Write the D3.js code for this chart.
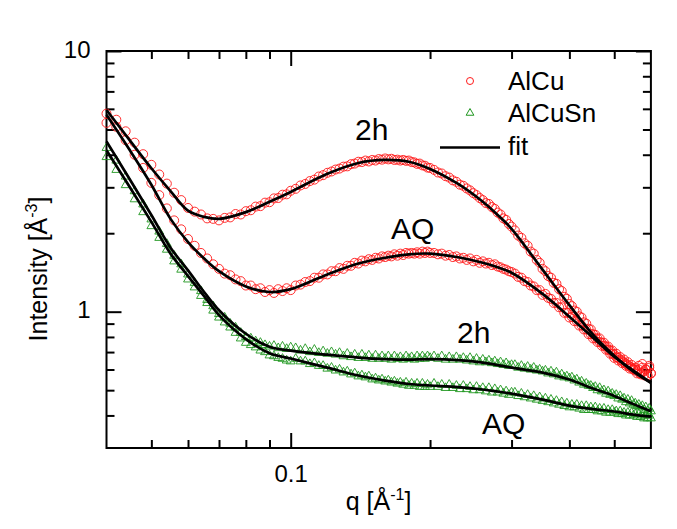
<!DOCTYPE html>
<html><head><meta charset="utf-8">
<script src="https://cdn.jsdelivr.net/npm/d3@7"></script>
<style>
html,body{margin:0;padding:0;background:#fff;}
svg{display:block;}
text{font-family:Arial,"Liberation Sans",sans-serif;fill:#000;}
</style></head><body>
<svg id="c" width="677" height="529"></svg>
<script>
// ---- data ----
const qScatter = [
0.040,0.042,0.044,0.046,0.048,0.050,0.052,0.054,0.056,0.058,
0.060,0.062,0.064,0.066,0.068,0.070,0.072,0.074,0.076,0.078,
0.080,0.082,0.084,0.086,0.088,0.090,0.092,0.094,0.096,0.098,0.100,
0.1025,0.105,0.1075,0.110,0.1125,0.115,0.1175,0.120,
0.1225,0.125,0.1275,0.130,0.1325,0.135,0.1375,0.140,
0.1425,0.145,0.1475,0.150,0.1525,0.155,0.1575,0.160,
0.1625,0.165,0.1675,0.170,0.1725,0.175,0.1775,0.180,
0.1825,0.185,0.1875,0.190,0.1925,0.195,0.1975,0.200,
0.204,0.208,0.212,0.216,0.220,0.224,0.228,
0.232,0.236,0.240,0.244,0.248,0.252,0.256,0.260,
0.264,0.268,0.272,0.276,0.280,0.284,0.288,0.292,0.296,0.300,
0.305,0.310,0.315,0.320,0.325,0.330,0.335,0.340,0.345,0.350,
0.355,0.360,0.365,0.370,0.375,0.380,0.385,0.390,0.395,0.400,
0.405,0.410,0.415,0.420,0.425,0.430,0.435,0.440,0.445,0.450,
0.455,0.460,0.465,0.470,0.475,0.480,0.485,0.490,0.495,0.500,
0.505,0.510,0.515,0.520,0.525,0.530,0.535,0.540,0.545,0.550,
0.555,0.560,0.565,0.570,0.575,0.580,0.585,0.590,0.595,0.600];
const alcu2h = [
5.75,5.45,4.92,4.45,4.02,3.66,3.36,3.10,2.86,2.68,
2.50,2.42,2.36,2.28,2.27,2.24,2.29,2.30,2.37,2.36,
2.43,2.45,2.53,2.54,2.62,2.63,2.72,2.73,2.81,2.82,2.91,
2.96,3.05,3.09,3.17,3.21,3.30,3.34,3.41,
3.45,3.51,3.54,3.60,3.61,3.68,3.70,3.76,
3.75,3.80,3.77,3.82,3.80,3.85,3.83,3.87,
3.84,3.86,3.82,3.83,3.80,3.82,3.79,3.80,
3.75,3.74,3.69,3.70,3.64,3.63,3.57,3.56,
3.50,3.42,3.39,3.31,3.27,3.19,3.15,
3.07,3.04,2.97,2.92,2.85,2.80,2.73,2.68,
2.61,2.59,2.52,2.48,2.40,2.36,2.28,2.25,2.17,2.12,
2.05,1.96,1.92,1.83,1.79,1.70,1.67,1.58,1.54,1.46,
1.43,1.37,1.35,1.29,1.28,1.22,1.20,1.14,1.12,1.07,
1.05,1.01,1.00,0.96,0.95,0.91,0.90,0.86,0.855,0.82,
0.815,0.79,0.79,0.76,0.76,0.735,0.735,0.71,0.71,0.685,
0.69,0.665,0.67,0.645,0.655,0.63,0.64,0.615,0.625,0.60,
0.61,0.59,0.62,0.58,0.63,0.59,0.60,0.57,0.62,0.58];
const alcuAQ = [
5.30,5.12,4.55,4.00,3.56,3.12,2.80,2.49,2.24,2.07,
1.90,1.79,1.68,1.60,1.52,1.46,1.40,1.38,1.33,1.31,
1.26,1.26,1.22,1.23,1.19,1.21,1.18,1.22,1.20,1.23,1.21,
1.26,1.27,1.30,1.31,1.35,1.35,1.39,1.39,
1.43,1.43,1.47,1.46,1.50,1.50,1.54,1.53,
1.57,1.56,1.59,1.58,1.61,1.60,1.63,1.62,
1.64,1.63,1.66,1.64,1.67,1.65,1.68,1.67,
1.68,1.67,1.69,1.67,1.70,1.68,1.70,1.68,
1.68,1.66,1.67,1.64,1.65,1.62,1.63,
1.60,1.61,1.58,1.60,1.56,1.58,1.54,1.56,
1.53,1.54,1.51,1.52,1.49,1.48,1.46,1.45,1.43,1.42,
1.40,1.36,1.35,1.31,1.30,1.26,1.25,1.21,1.21,1.16,
1.17,1.13,1.12,1.08,1.08,1.04,1.04,0.99,0.99,0.95,
0.955,0.92,0.92,0.885,0.885,0.855,0.855,0.82,0.82,0.79,
0.79,0.765,0.765,0.74,0.74,0.715,0.715,0.69,0.69,0.665,
0.67,0.65,0.655,0.635,0.64,0.62,0.625,0.605,0.61,0.60,
0.60,0.58,0.60,0.575,0.61,0.57,0.60,0.565,0.61,0.58];
const alcusn2h = [
4.25,3.80,3.30,2.90,2.58,2.26,2.03,1.82,1.64,1.52,
1.39,1.29,1.20,1.11,1.05,0.98,0.95,0.90,0.87,0.83,
0.80,0.79,0.77,0.76,0.745,0.735,0.74,0.725,0.735,0.72,0.73,
0.725,0.71,0.72,0.70,0.715,0.695,0.705,0.69,
0.70,0.685,0.695,0.675,0.69,0.67,0.685,0.665,
0.685,0.665,0.68,0.66,0.68,0.66,0.675,0.66,
0.675,0.655,0.675,0.66,0.67,0.655,0.675,0.66,
0.67,0.655,0.675,0.66,0.675,0.66,0.675,0.665,
0.675,0.66,0.675,0.655,0.67,0.655,0.67,
0.655,0.665,0.65,0.665,0.645,0.66,0.64,0.655,
0.64,0.65,0.635,0.645,0.63,0.64,0.625,0.635,0.62,0.625,
0.625,0.61,0.62,0.605,0.615,0.60,0.61,0.595,0.60,0.59,
0.595,0.58,0.59,0.575,0.585,0.565,0.575,0.56,0.565,0.555,
0.56,0.545,0.55,0.535,0.54,0.525,0.53,0.52,0.52,0.51,
0.515,0.50,0.51,0.495,0.50,0.485,0.495,0.48,0.485,0.475,
0.48,0.465,0.475,0.46,0.465,0.45,0.46,0.445,0.455,0.44,
0.445,0.435,0.44,0.43,0.435,0.42,0.43,0.415,0.425,0.415];
const alcusnAQ = [
3.92,3.50,3.06,2.70,2.41,2.13,1.92,1.73,1.56,1.45,
1.33,1.24,1.15,1.08,1.01,0.95,0.91,0.87,0.83,0.79,
0.76,0.745,0.73,0.71,0.70,0.68,0.675,0.665,0.66,0.65,0.645,
0.66,0.645,0.645,0.63,0.635,0.62,0.62,0.605,
0.61,0.595,0.60,0.585,0.59,0.575,0.58,0.565,
0.57,0.56,0.565,0.55,0.555,0.545,0.55,0.54,
0.545,0.535,0.54,0.53,0.535,0.525,0.535,0.52,
0.53,0.52,0.53,0.515,0.53,0.515,0.525,0.515,
0.53,0.515,0.525,0.51,0.525,0.51,0.52,
0.505,0.52,0.505,0.515,0.50,0.515,0.50,0.51,
0.495,0.51,0.49,0.505,0.49,0.50,0.485,0.495,0.48,0.49,
0.49,0.475,0.485,0.47,0.48,0.465,0.475,0.46,0.47,0.455,
0.465,0.45,0.46,0.445,0.455,0.44,0.45,0.435,0.445,0.43,
0.44,0.43,0.44,0.425,0.435,0.42,0.435,0.42,0.43,0.42,
0.43,0.415,0.425,0.415,0.425,0.41,0.42,0.41,0.42,0.41,
0.415,0.405,0.415,0.405,0.41,0.40,0.41,0.40,0.41,0.40,
0.405,0.395,0.405,0.395,0.40,0.39,0.40,0.39,0.40,0.39];

const qFit = [0.04,0.045,0.05,0.055,0.06,0.065,0.07,0.08,0.09,0.1,0.12,0.14,0.16,0.18,0.2,0.23,0.26,0.28,0.3,0.35,0.4,0.45,0.5,0.55,0.6];
const fitAlCu2h   = [5.94,4.52,3.55,2.90,2.44,2.31,2.27,2.41,2.64,2.88,3.38,3.72,3.82,3.76,3.53,3.09,2.64,2.35,2.08,1.45,1.06,0.816,0.678,0.589,0.534];
const fitAlCuAQ   = [5.69,4.14,3.07,2.27,1.85,1.60,1.43,1.25,1.19,1.22,1.39,1.53,1.61,1.66,1.67,1.617,1.54,1.48,1.41,1.17,0.957,0.795,0.672,0.594,0.534];
const fitAlCuSn2h = [4.5,3.20,2.35,1.76,1.44,1.19,1.013,0.823,0.734,0.709,0.684,0.667,0.658,0.655,0.658,0.652,0.638,0.624,0.610,0.584,0.549,0.507,0.475,0.442,0.415];
const fitAlCuSnAQ = [4.16,2.99,2.21,1.67,1.37,1.147,0.970,0.785,0.693,0.661,0.610,0.569,0.544,0.528,0.521,0.514,0.503,0.494,0.485,0.460,0.436,0.423,0.414,0.403,0.396];

const xMajorTicks = [0.1];
const xMinorTicks = [0.05,0.06,0.07,0.08,0.09,0.2,0.3,0.4,0.5];
const yMajorTicks = [1,10];
const yMinorTicks = [0.4,0.5,0.6,0.7,0.8,0.9,2,3,4,5,6,7,8,9];
const legendLabels = ["AlCu","AlCuSn","fit"];
const curveLabels = [
  {text:"2h", q:0.1377, I:4.56},
  {text:"AQ", q:0.1647, I:1.905},
  {text:"2h", q:0.2288, I:0.761},
  {text:"AQ", q:0.259,  I:0.338}
];

// ---- chart ----
const svg = d3.select("#c");
const FONT = "Arial, 'Liberation Sans', sans-serif";
const x = d3.scaleLog().domain([0.04,0.6]).range([106.5,650.9]);
const y = d3.scaleLog().domain([0.3,10]).range([448,51]);
const RED = "#ff1a1a", GREEN = "#1f961f";

function styleAxis(g){
  g.select(".domain").remove();
  g.selectAll(".tick line").attr("stroke","#000").attr("stroke-width",2);
  g.selectAll("text").attr("font-size",24).attr("font-family",FONT).attr("fill","#000");
}
svg.append("g").attr("transform","translate(0,448)")
  .call(d3.axisBottom(x).tickValues(xMajorTicks).tickSize(-15).tickPadding(17).tickFormat(d3.format("")))
  .call(styleAxis);
svg.append("g").attr("transform","translate(0,448)")
  .call(d3.axisBottom(x).tickValues(xMinorTicks).tickSize(-8).tickFormat(""))
  .call(styleAxis);
svg.append("g").attr("transform","translate(0,51)")
  .call(d3.axisTop(x).tickValues(xMajorTicks).tickSize(-15).tickFormat(""))
  .call(styleAxis);
svg.append("g").attr("transform","translate(0,51)")
  .call(d3.axisTop(x).tickValues(xMinorTicks).tickSize(-8).tickFormat(""))
  .call(styleAxis);
svg.append("g").attr("transform","translate(106.5,0)")
  .call(d3.axisLeft(y).tickValues(yMajorTicks).tickSize(-15).tickPadding(16).tickFormat(d3.format("d")))
  .call(styleAxis)
  .call(g=>g.selectAll("text").attr("dy","0.25em"));
svg.append("g").attr("transform","translate(106.5,0)")
  .call(d3.axisLeft(y).tickValues(yMinorTicks).tickSize(-8).tickFormat(""))
  .call(styleAxis);
svg.append("g").attr("transform","translate(650.9,0)")
  .call(d3.axisRight(y).tickValues(yMajorTicks).tickSize(-15).tickFormat(""))
  .call(styleAxis);
svg.append("g").attr("transform","translate(650.9,0)")
  .call(d3.axisRight(y).tickValues(yMinorTicks).tickSize(-8).tickFormat(""))
  .call(styleAxis);

svg.append("rect").attr("x",x.range()[0]).attr("y",y.range()[1])
  .attr("width",x.range()[1]-x.range()[0]).attr("height",y.range()[0]-y.range()[1])
  .attr("fill","none").attr("stroke","#000").attr("stroke-width",2);

const yt = svg.append("text").attr("transform","rotate(-90)")
  .attr("x",-269).attr("y",46.5).attr("text-anchor","middle")
  .attr("font-size",25).attr("font-family",FONT);
yt.append("tspan").text("Intensity [Å");
yt.append("tspan").attr("font-size",16).attr("dy",-10).text("-3");
yt.append("tspan").attr("dy",10).text("]");

const xt = svg.append("text").attr("x",378.5).attr("y",510).attr("text-anchor","middle")
  .attr("font-size",25).attr("font-family",FONT);
xt.append("tspan").text("q [Å");
xt.append("tspan").attr("font-size",16).attr("dy",-10).text("-1");
xt.append("tspan").attr("dy",10).text("]");

const tri = d3.symbol().type(d3.symbolTriangle).size(34);
function circles(vals){
  svg.append("g").selectAll("circle").data(qScatter.map((q,i)=>[q,vals[i]])).join("circle")
    .attr("cx",d=>x(d[0])).attr("cy",d=>y(d[1])).attr("r",4.5)
    .attr("fill","none").attr("stroke",RED).attr("stroke-width",0.9);
}
function triangles(vals){
  svg.append("g").selectAll("path").data(qScatter.map((q,i)=>[q,vals[i]])).join("path")
    .attr("d",tri).attr("transform",d=>`translate(${x(d[0])},${y(d[1])})`)
    .attr("fill","none").attr("stroke",GREEN).attr("stroke-width",0.9);
}
circles(alcu2h); circles(alcuAQ);
triangles(alcusn2h); triangles(alcusnAQ);

const line = d3.line().x(d=>x(d[0])).y(d=>y(d[1])).curve(d3.curveCatmullRom.alpha(0.5));
[fitAlCu2h,fitAlCuAQ,fitAlCuSn2h,fitAlCuSnAQ].forEach(f=>{
  svg.append("path").datum(qFit.map((q,i)=>[q,f[i]])).attr("d",line)
    .attr("fill","none").attr("stroke","#000").attr("stroke-width",2.7);
});

svg.append("g").selectAll("text").data(curveLabels).join("text")
  .attr("x",d=>x(d.q)).attr("y",d=>y(d.I)).attr("font-size",30).attr("font-family",FONT)
  .text(d=>d.text);

const lg = svg.append("g");
lg.append("circle").attr("cx",470).attr("cy",81).attr("r",3.5).attr("fill","none").attr("stroke",RED).attr("stroke-width",1);
lg.append("path").attr("d",d3.symbol().type(d3.symbolTriangle).size(26)).attr("transform","translate(470,113)")
  .attr("fill","none").attr("stroke",GREEN).attr("stroke-width",1);
lg.append("line").attr("x1",440).attr("x2",500).attr("y1",147.5).attr("y2",147.5).attr("stroke","#000").attr("stroke-width",2.7);
lg.selectAll("text").data(legendLabels).join("text")
  .attr("x",508).attr("y",(d,i)=>[89.5,121.5,155][i]).attr("font-size",26).attr("font-family",FONT).text(d=>d);
</script>
</body></html>
